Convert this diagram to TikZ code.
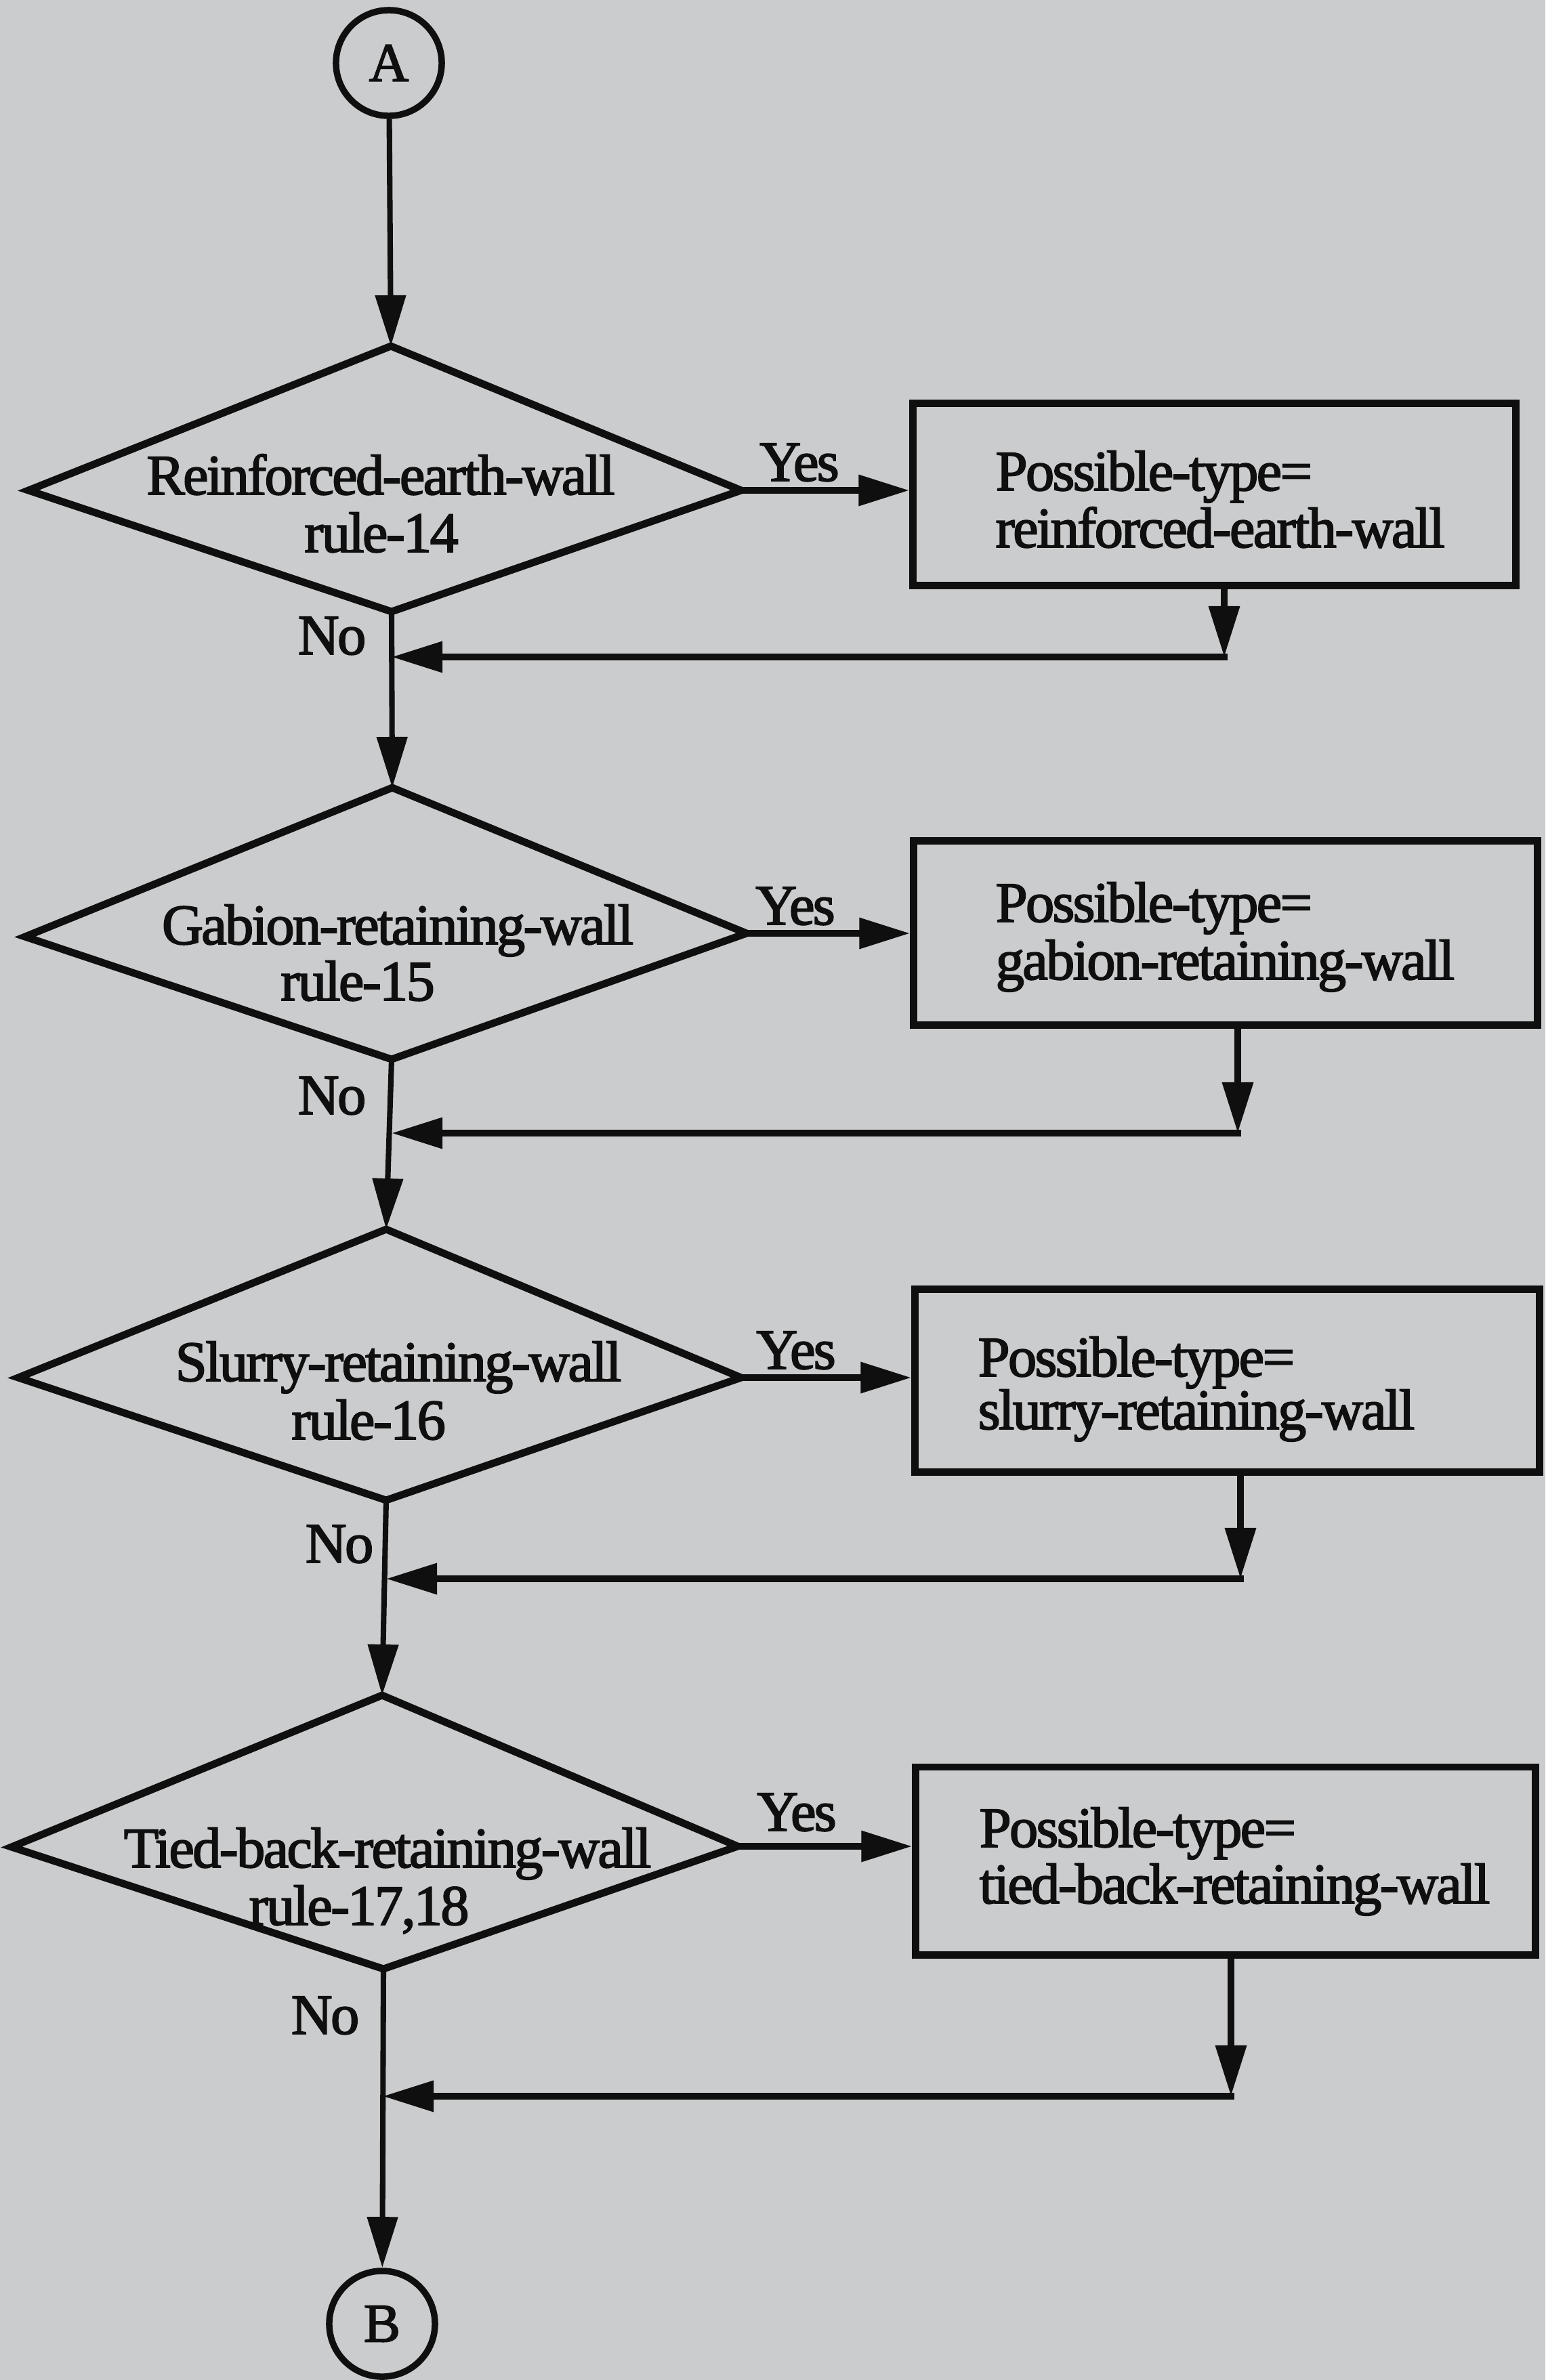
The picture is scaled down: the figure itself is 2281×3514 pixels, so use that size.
\documentclass[tikz,border=0pt]{standalone}
\usepackage{fontspec}
\setmainfont[FakeBold=2.2, LetterSpace=-3.2]{Liberation Serif}
\usetikzlibrary{arrows.meta}
\definecolor{paper}{RGB}{203,204,206}
\definecolor{ink}{RGB}{15,15,15}
\begin{document}
\begin{tikzpicture}[
  x=0.01cm, y=-0.01cm,
  outline/.style={draw=ink, line width=3.1pt, line join=miter},
  txt/.style={font=\fontsize{24}{26}\selectfont, text=ink, inner sep=0pt},
  conn/.style={draw=ink, line width=2.8pt},
  trunk/.style={draw=ink, line width=2.3pt},
  tip/.style={-{Triangle[length=0.75cm,width=0.44cm]}},
  terminal/.style={circle, draw=ink, line width=2.7pt, minimum size=1.56cm,
                   inner sep=0pt, font=\fontsize{23}{26}\selectfont, text=ink},
  box/.style={rectangle, draw=ink, line width=3.1pt, inner sep=0pt},
]
% page
\path[fill=paper] (0,0) rectangle (2281,3514);

% connectors A and B
\node[terminal] (A) at (574,93) {A};
\node[terminal] (B) at (564,3431) {B};

% decision diamonds (top, right, bottom, left vertices)
\coordinate (d1t) at (577,511);  \coordinate (d1r) at (1094,724);
\coordinate (d1b) at (578,903);  \coordinate (d1l) at (42,724);
\coordinate (d2t) at (579,1163); \coordinate (d2r) at (1102,1378);
\coordinate (d2b) at (578,1564); \coordinate (d2l) at (37,1383);
\coordinate (d3t) at (570,1815); \coordinate (d3r) at (1094,2034);
\coordinate (d3b) at (570,2215); \coordinate (d3l) at (27,2034);
\coordinate (d4t) at (564,2503); \coordinate (d4r) at (1089,2726);
\coordinate (d4b) at (566,2907); \coordinate (d4l) at (17,2727);

\draw[outline] (d1t) -- (d1r) -- (d1b) -- (d1l) -- cycle;
\draw[outline] (d2t) -- (d2r) -- (d2b) -- (d2l) -- cycle;
\draw[outline] (d3t) -- (d3r) -- (d3b) -- (d3l) -- cycle;
\draw[outline] (d4t) -- (d4r) -- (d4b) -- (d4l) -- cycle;

\node[txt, anchor=base] (d1a) at (562,730)  {Reinforced-earth-wall};
\node[txt, anchor=base] (d1c) at (563,815)  {rule-14};
\node[txt, anchor=base] (d2a) at (587,1394) {Gabion-retaining-wall};
\node[txt, anchor=base] (d2c) at (528,1477) {rule-15};
\node[txt, anchor=base] (d3a) at (588,2039) {Slurry-retaining-wall};
\node[txt, anchor=base] (d3c) at (544,2125) {rule-16};
\node[txt, anchor=base] (d4a) at (572,2757) {Tied-back-retaining-wall};
\node[txt, anchor=base] (d4c) at (530,2842) {rule-17,18};

% action boxes
\node[box, minimum width=8.89cm, minimum height=2.68cm] (b1) at (1792.5,730) {};
\node[box, minimum width=9.20cm, minimum height=2.71cm] (b2) at (1809,1377.5) {};
\node[box, minimum width=9.21cm, minimum height=2.69cm] (b3) at (1811.5,2038.5) {};
\node[box, minimum width=9.14cm, minimum height=2.77cm] (b4) at (1809,2747.5) {};

\node[txt, anchor=base west] (b1a) at (1469,724)  {Possible-type=};
\node[txt, anchor=base west] (b1c) at (1469,808)  {reinforced-earth-wall};
\node[txt, anchor=base west] (b2a) at (1469,1361) {Possible-type=};
\node[txt, anchor=base west] (b2c) at (1469,1446) {gabion-retaining-wall};
\node[txt, anchor=base west] (b3a) at (1443,2032) {Possible-type=};
\node[txt, anchor=base west] (b3c) at (1443,2110) {slurry-retaining-wall};
\node[txt, anchor=base west] (b4a) at (1445,2727) {Possible-type=};
\node[txt, anchor=base west] (b4c) at (1445,2810) {tied-back-retaining-wall};

% main flow down the left
\draw[trunk, tip] (A) -- (d1t);
\draw[trunk, tip] (d1b) -- (d2t);
\draw[trunk, tip] (d2b) -- (d3t);
\draw[trunk, tip] (d3b) -- (d4t);
\draw[trunk, tip] (d4b) -- (B);

% yes branches
\draw[conn, tip] (d1r) -- (b1.west |- d1r);
\draw[conn, tip] (d2r) -- (b2.west |- d2r);
\draw[conn, tip] (d3r) -- (b3.west |- d3r);
\draw[conn, tip] (d4r) -- (b4.west |- d4r);

\node[txt, anchor=base] (y1) at (1180,710)  {Yes};
\node[txt, anchor=base] (y2) at (1174,1365) {Yes};
\node[txt, anchor=base] (y3) at (1175,2021) {Yes};
\node[txt, anchor=base] (y4) at (1176,2703) {Yes};

% no labels
\node[txt, anchor=base] (n1) at (490,966)  {No};
\node[txt, anchor=base] (n2) at (490,1645) {No};
\node[txt, anchor=base] (n3) at (501,2307) {No};
\node[txt, anchor=base] (n4) at (480,3003) {No};

% return paths back to the main flow
\coordinate (c1) at (1807,970);  \coordinate (j1) at (578,970);
\coordinate (c2) at (1827,1673); \coordinate (j2) at (578,1673);
\coordinate (c3) at (1831,2331); \coordinate (j3) at (570,2331);
\coordinate (c4) at (1817,3095); \coordinate (j4) at (565,3095);

\draw[conn, tip] (b1.south -| c1) -- (c1);
\draw[conn, tip] (b2.south -| c2) -- (c2);
\draw[conn, tip] (b3.south -| c3) -- (c3);
\draw[conn, tip] (b4.south -| c4) -- (c4);

\draw[conn, tip] ([xshift=1.4pt]c1) -- (j1);
\draw[conn, tip] ([xshift=1.4pt]c2) -- (j2);
\draw[conn, tip] ([xshift=1.4pt]c3) -- (j3);
\draw[conn, tip] ([xshift=1.4pt]c4) -- (j4);
\end{tikzpicture}
\end{document}
